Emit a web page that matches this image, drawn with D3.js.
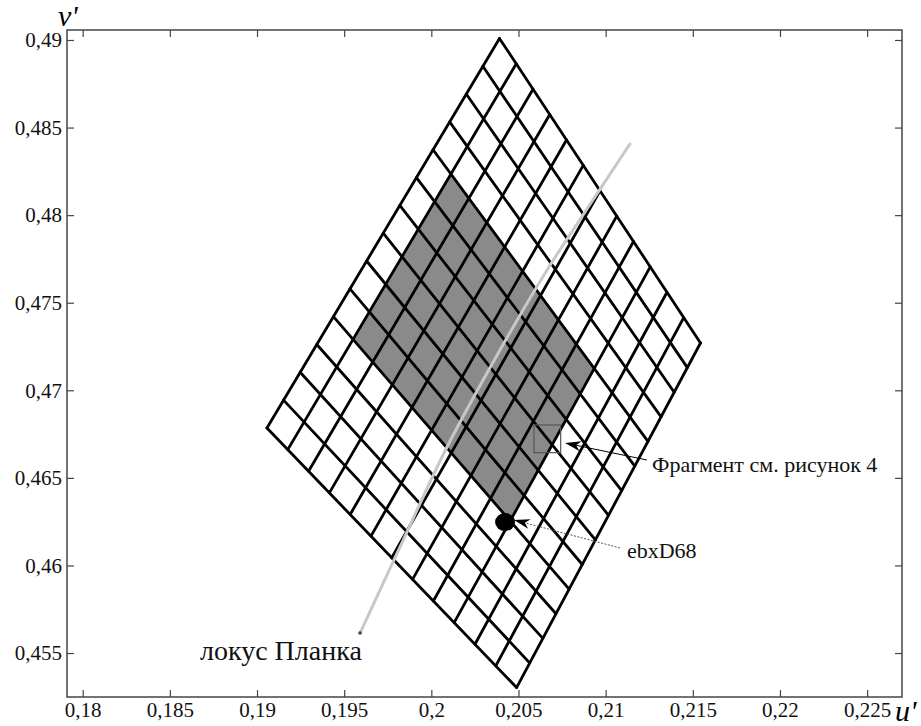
<!DOCTYPE html>
<html>
<head>
<meta charset="utf-8">
<script src="https://cdn.jsdelivr.net/npm/d3@7"></script>
<style>
  body { margin: 0; background: #fff; }
  svg { display: block; }
</style>
</head>
<body>
<svg id="chart" width="921" height="726"></svg>
<script>
// tick values
const xTicks = [0.18, 0.185, 0.19, 0.195, 0.2, 0.205, 0.21, 0.215, 0.22, 0.225];
const yTicks = [0.455, 0.46, 0.465, 0.47, 0.475, 0.48, 0.485, 0.49];

// lattice corners (top, right, bottom, left) in u', v'
const gridU = [0.20391, 0.21544, 0.20489, 0.19057];
const gridV = [0.49009, 0.47270, 0.45303, 0.46785];
const gridCells = [14, 12]; // cells along top-left edge, along top-right edge
// shaded block, in lattice steps
const shadeRows = [4, 10];
const shadeCols = [1, 9];

// Planck locus
const locusU = [0.19591, 0.19820, 0.20090, 0.20394, 0.20664, 0.20870, 0.21143];
const locusV = [0.45614, 0.46105, 0.46676, 0.47230, 0.47687, 0.48001, 0.48412];

// ebxD68 point
const pointU = [0.20423];
const pointV = [0.46248];

// "fragment" box
const fragU = [0.20589, 0.20742];
const fragV = [0.46644, 0.46802];

// annotations
const noteText = ['Фрагмент см. рисунок 4', 'ebxD68', 'локус Планка'];
const noteU = [0.21266, 0.21122, 0.18673];
const noteV = [0.46534, 0.46043, 0.45460];
const arrowFromU = [0.21237, 0.21082];
const arrowFromV = [0.46602, 0.46100];
const arrowToU = [0.20767, 0.20474];
const arrowToV = [0.46699, 0.46260];

const width = 921;
const height = 726;
const margin = { top: 30, right: 19, bottom: 29, left: 67 };
const font = '"Liberation Serif", "Times New Roman", serif';

const svg = d3.select('#chart');

const x = d3.scaleLinear()
  .domain([0.1791, 0.2270])
  .range([margin.left, width - margin.right]);
const y = d3.scaleLinear()
  .domain([0.45249, 0.49057])
  .range([height - margin.bottom, margin.top]);

const fmt = (d) => d3.format('.3~f')(d).replace('.', ',');

// bilinear lattice node -> pixel
function node(s, t) {
  const a = s / gridCells[0];
  const b = t / gridCells[1];
  const w = [(1 - a) * (1 - b), (1 - a) * b, a * b, a * (1 - b)];
  const u = d3.sum(w, (k, i) => k * gridU[i]);
  const v = d3.sum(w, (k, i) => k * gridV[i]);
  return [x(u), y(v)];
}

// shaded block
const shade = [
  node(shadeRows[0], shadeCols[0]),
  node(shadeRows[0], shadeCols[1]),
  node(shadeRows[1], shadeCols[1]),
  node(shadeRows[1], shadeCols[0]),
];
svg.append('path')
  .attr('d', `M${shade.join('L')}Z`)
  .attr('fill', '#8a8a8a');

// lattice lines
const lines = [];
d3.range(gridCells[0] + 1).forEach((s) => lines.push([node(s, 0), node(s, gridCells[1])]));
d3.range(gridCells[1] + 1).forEach((t) => lines.push([node(0, t), node(gridCells[0], t)]));

svg.append('g')
  .selectAll('line')
  .data(lines)
  .enter()
  .append('line')
  .attr('x1', (d) => d[0][0])
  .attr('y1', (d) => d[0][1])
  .attr('x2', (d) => d[1][0])
  .attr('y2', (d) => d[1][1])
  .attr('stroke', '#000')
  .attr('stroke-width', 2.8)
  .attr('stroke-linecap', 'round');

// Planck locus
const locus = d3.line()
  .x((d, i) => x(locusU[i]))
  .y((d, i) => y(locusV[i]))
  .curve(d3.curveCatmullRom);
svg.append('path')
  .attr('d', locus(locusU))
  .attr('fill', 'none')
  .attr('stroke', '#c8c8c8')
  .attr('stroke-width', 3);
svg.append('circle')
  .attr('cx', x(locusU[0]))
  .attr('cy', y(locusV[0]))
  .attr('r', 1.8)
  .attr('fill', '#444');

// fragment box
svg.append('rect')
  .attr('x', x(fragU[0]))
  .attr('y', y(fragV[1]))
  .attr('width', x(fragU[1]) - x(fragU[0]))
  .attr('height', y(fragV[0]) - y(fragV[1]))
  .attr('fill', 'none')
  .attr('stroke', '#555')
  .attr('stroke-width', 1.2);

// ebxD68 point
svg.append('ellipse')
  .attr('cx', x(pointU[0]))
  .attr('cy', y(pointV[0]))
  .attr('rx', 10)
  .attr('ry', 9)
  .attr('fill', '#000');

// arrows
arrowFromU.forEach((u, i) => {
  const x0 = x(u);
  const y0 = y(arrowFromV[i]);
  const x1 = x(arrowToU[i]);
  const y1 = y(arrowToV[i]);
  const len = Math.hypot(x1 - x0, y1 - y0);
  const ux = (x1 - x0) / len;
  const uy = (y1 - y0) / len;
  const hl = 16;
  const hw = 5;
  const bx = x1 - ux * hl;
  const by = y1 - uy * hl;
  const nx = x1 - ux * hl * 0.7;
  const ny = y1 - uy * hl * 0.7;
  svg.append('line')
    .attr('x1', x0).attr('y1', y0)
    .attr('x2', nx).attr('y2', ny)
    .attr('stroke', i === 0 ? '#000' : '#555')
    .attr('stroke-width', 1)
    .attr('stroke-dasharray', i === 0 ? null : '2,1.5');
  svg.append('path')
    .attr('d', `M${x1},${y1}L${bx - uy * hw},${by + ux * hw}L${nx},${ny}L${bx + uy * hw},${by - ux * hw}Z`)
    .attr('fill', '#000');
});

// annotation texts
svg.selectAll('.note')
  .data(noteText)
  .enter()
  .append('text')
  .attr('class', 'note')
  .attr('x', (d, i) => x(noteU[i]))
  .attr('y', (d, i) => y(noteV[i]))
  .attr('font-family', font)
  .attr('font-size', (d, i) => (i === 2 ? 28 : 22))
  .attr('fill', '#111')
  .text((d) => d);

// frame
svg.append('rect')
  .attr('x', margin.left)
  .attr('y', margin.top)
  .attr('width', width - margin.left - margin.right)
  .attr('height', height - margin.top - margin.bottom)
  .attr('fill', 'none')
  .attr('stroke', '#444')
  .attr('stroke-width', 1.5);

// axes
const tick = -7;
function styleAxis(g) {
  g.select('.domain').remove();
  g.selectAll('.tick line').attr('stroke', '#444').attr('stroke-width', 1.2);
  g.selectAll('.tick text')
    .attr('font-family', font)
    .attr('font-size', 21)
    .attr('fill', '#111');
}

svg.append('g')
  .attr('transform', `translate(0,${height - margin.bottom})`)
  .call(d3.axisBottom(x).tickValues(xTicks).tickFormat(fmt).tickSize(tick).tickPadding(5))
  .call(styleAxis);
svg.append('g')
  .attr('transform', `translate(0,${margin.top})`)
  .call(d3.axisTop(x).tickValues(xTicks).tickFormat('').tickSize(tick))
  .call(styleAxis);
svg.append('g')
  .attr('transform', `translate(${margin.left},0)`)
  .call(d3.axisLeft(y).tickValues(yTicks).tickFormat(fmt).tickSize(tick).tickPadding(5))
  .call(styleAxis);
svg.append('g')
  .attr('transform', `translate(${width - margin.right},0)`)
  .call(d3.axisRight(y).tickValues(yTicks).tickFormat('').tickSize(tick))
  .call(styleAxis);

// axis titles
svg.append('text')
  .attr('x', margin.left - 9)
  .attr('y', 26)
  .attr('font-family', font)
  .attr('font-style', 'italic')
  .attr('font-size', 30)
  .text("v'");
svg.append('text')
  .attr('x', width - margin.right - 7)
  .attr('y', 721)
  .attr('font-family', font)
  .attr('font-style', 'italic')
  .attr('font-size', 30)
  .text("u'");
</script>
</body>
</html>
